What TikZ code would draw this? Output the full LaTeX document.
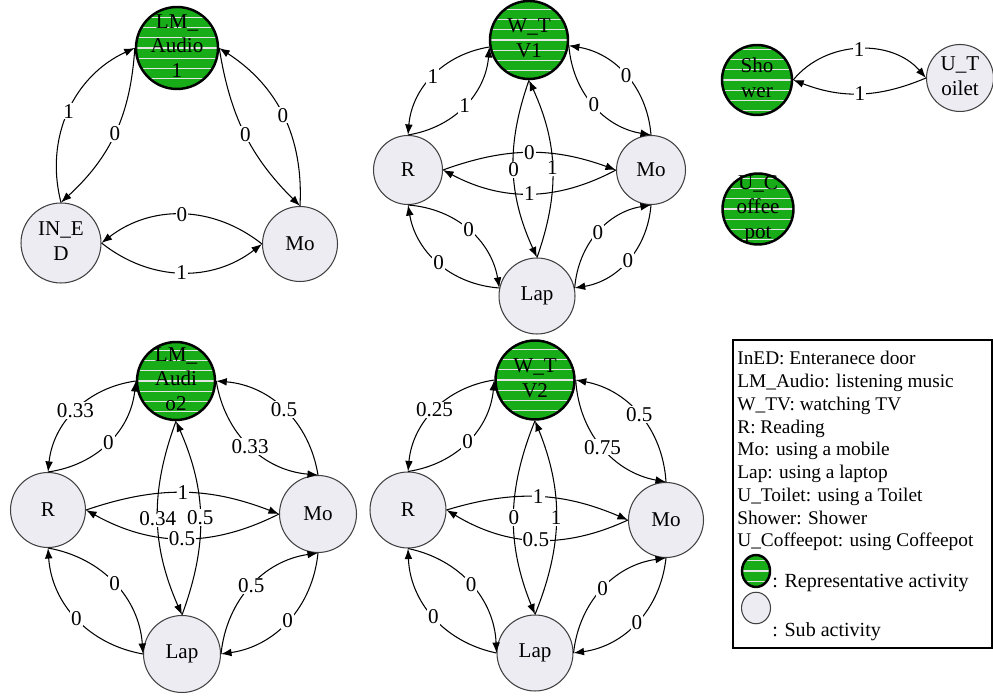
\documentclass[tikz,border=0pt]{standalone}
\usepackage{fontspec}
\setmainfont{Liberation Serif}
\usetikzlibrary{arrows.meta,shapes.geometric}
\definecolor{repgreen}{RGB}{24,172,24}
\definecolor{subgray}{RGB}{238,236,243}
\tikzset{
  stripes/.style={path picture={\foreach \k in {-5,...,5}
    \draw[white!80!gray,line width=0.6pt] ([yshift=\k*5.86pt]path picture bounding box.west) -- ([yshift=\k*5.86pt]path picture bounding box.east);}},
  rep/.style={shape=circle,draw=black,line width=1.4pt,fill=repgreen,stripes,inner sep=0pt,font=\fontsize{12}{14}\selectfont},
  sub/.style={shape=circle,draw=black!75,line width=0.6pt,fill=subgray,inner sep=0pt,font=\fontsize{12}{14}\selectfont},
  lbl/.style={fill=white,inner sep=0.6pt,font=\fontsize{12}{12}\selectfont},
  edge/.style={line width=0.6pt,-{Latex[length=6pt,width=4.4pt]}},
  keytext/.style={inner sep=0pt,font=\fontsize{11}{12.95}\selectfont}
}
\newcommand{\act}[1]{\smash{\raisebox{-3pt}{\begin{tabular}{@{}c@{}}#1\end{tabular}}}}

\begin{document}
\begin{tikzpicture}[x=0.02cm,y=0.02cm]
\useasboundingbox (0,0) rectangle (993,696);
      \node[rep,minimum size=1.64cm] (LMa1) at (177,648) {\act{LM\_\\Audio\\1}};
      \node[sub,minimum size=1.6cm] (INED) at (61,453) {\act{IN\_E\\D}};
      \node[sub,minimum size=1.5cm] (MoA) at (300,452) {Mo};

      \node[rep,minimum size=1.56cm] (WTV1) at (529,656) {\act{W\_T\\V1}};
      \node[sub,minimum size=1.38cm] (RB) at (408,526) {R};
      \node[sub,minimum size=1.38cm] (MoB) at (651,526) {Mo};
      \node[sub,minimum size=1.52cm] (LapB) at (537,400) {Lap};

      \node[rep,minimum size=1.4cm] (Shower) at (757,616) {\act{Sho\\wer}};
      \node[sub,minimum size=1.34cm] (UToilet) at (960,618) {\act{U\_T\\oilet}};
      \node[rep,minimum size=1.42cm] (UCoffee) at (758,487) {\act{U\_C\\offee\\pot}};

      \node[rep,minimum size=1.56cm] (LMa2) at (176,315) {\act{LM\_\\Audi\\o2}};
      \node[sub,minimum size=1.5cm] (RC) at (48,186) {R};
      \node[sub,minimum size=1.54cm] (MoC) at (318,182) {Mo};
      \node[sub,minimum size=1.54cm] (LapC) at (182,42) {Lap};

      \node[rep,minimum size=1.58cm] (WTV2) at (535,316) {\act{W\_T\\V2}};
      \node[sub,minimum size=1.52cm] (RD) at (408,186) {R};
      \node[sub,minimum size=1.5cm] (MoD) at (666,176) {Mo};
      \node[sub,minimum size=1.52cm] (LapD) at (535,43) {Lap};

\foreach \na/\nb/\bend/\val in {INED.north/LMa1.west/40/1, LMa1.west/INED.north/22/0,
    MoA.north/LMa1.east/-30/0, LMa1.east/MoA.north/-18/0,
    MoA.west/INED.east/-38/0, INED.east/MoA.west/-38/1}
  \draw[edge] (\na) to[bend left=\bend] node[lbl] {\val} (\nb);

\foreach \na/\nb/\bend/\val in {WTV1.190/RB.north/-38/1, RB.north/WTV1.190/-38/1,
    MoB.north/WTV1.-8/-38/0, WTV1.-8/MoB.north/-38/0,
    WTV1.south/LapB.north/-22/0, LapB.north/WTV1.south/-22/1,
    RB.east/MoB.west/20/0, MoB.west/RB.east/28/1,
    RB.south/LapB.168/38/0, LapB.168/RB.south/38/0,
    LapB.12/MoB.south/38/0, MoB.south/LapB.12/38/0}
  \draw[edge] (\na) to[bend left=\bend] node[lbl] {\val} (\nb);

\draw[edge] (Shower.east) to[bend left=50] node[lbl] {1} (UToilet.west);
\draw[edge] (UToilet.west) to[bend left=22] node[lbl] {1} (Shower.east);

\foreach \na/\nb/\bend/\val in {LMa2.west/RC.north/-38/0.33, RC.north/LMa2.west/-38/0,
    MoC.north/LMa2.east/-38/0.5, LMa2.east/MoC.north/-38/0.33,
    LMa2.south/LapC.north/-22/0.34, LapC.north/LMa2.south/-22/0.5,
    RC.east/MoC.west/20/1, MoC.west/RC.east/28/0.5,
    RC.south/LapC.west/38/0, LapC.west/RC.south/38/0,
    LapC.east/MoC.south/38/0.5, MoC.south/LapC.east/38/0}
  \draw[edge] (\na) to[bend left=\bend] node[lbl] {\val} (\nb);

\foreach \na/\nb/\bend/\val in {WTV2.west/RD.north/-38/0.25, RD.north/WTV2.west/-38/0,
    MoD.north/WTV2.east/-38/0.5, WTV2.east/MoD.north/-38/0.75,
    WTV2.south/LapD.north/-22/0, LapD.north/WTV2.south/-22/1,
    RD.east/MoD.west/20/1, MoD.west/RD.east/28/0.5,
    RD.south/LapD.west/38/0, LapD.west/RD.south/38/0,
    LapD.east/MoD.south/38/0, MoD.south/LapD.east/38/0}
  \draw[edge] (\na) to[bend left=\bend] node[lbl] {\val} (\nb);

\draw[line width=0.6pt] (733,356) rectangle (992,48);
      \node[keytext,anchor=north west,align=left] (keylist) at (737,345)
        {InED: Enteranece door\\LM\_Audio: listening music\\W\_TV: watching TV\\R: Reading\\Mo: using a mobile\\Lap: using a laptop\\U\_Toilet: using a Toilet\\Shower: Shower\\U\_Coffeepot: using Coffeepot};
      \node[rep,shape=ellipse,minimum width=0.56cm,minimum height=0.64cm] (keyrep) at (756,125) {};
      \node[keytext,anchor=west,font=\fontsize{11.4}{13}\selectfont] (keyreptext) at (772,113) {: Representative activity};
      \node[sub,shape=ellipse,minimum width=0.58cm,minimum height=0.63cm] (keysub) at (756,88) {};
      \node[keytext,anchor=west,font=\fontsize{11.4}{13}\selectfont] (keysubtext) at (772,64) {: Sub activity};
    \end{tikzpicture}
\end{document}
